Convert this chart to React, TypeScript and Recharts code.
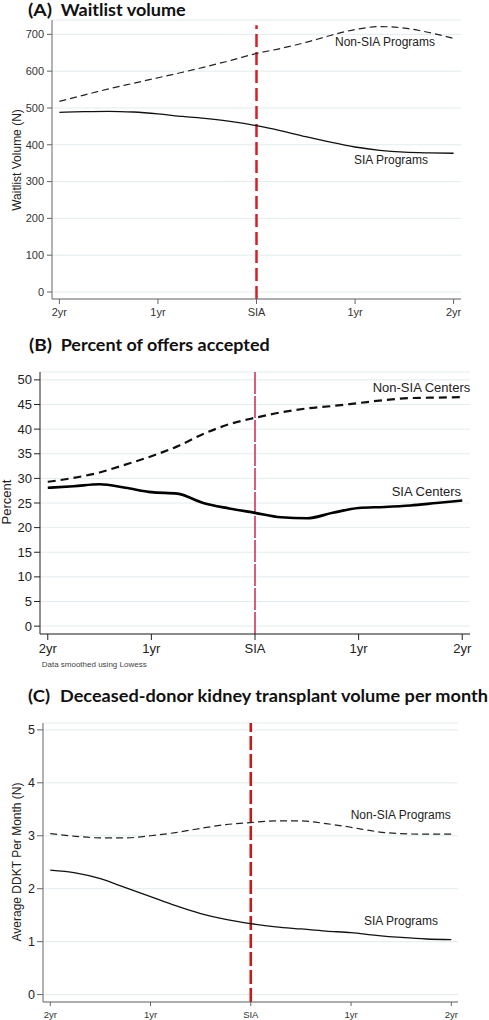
import React from 'react';
import { LineChart, Line, XAxis, YAxis, CartesianGrid, ReferenceLine } from 'recharts';

// months relative to SIA
const months = [-24, -21, -18, -15, -12, -9, -6, -3, 0, 3, 6, 9, 12, 15, 18, 21, 24];
const xTicks = [-24, -12, 0, 12, 24];
const xTickLabels = ['2yr', '1yr', 'SIA', '1yr', '2yr'];

// (A) waitlist volume
const waitNonSia = [518, 535, 552, 567, 582, 597, 613, 630, 648, 662, 678, 697, 713, 721, 717, 705, 689];
const waitSia = [488, 490, 491, 489, 484, 477, 471, 463, 452, 438, 422, 407, 394, 385, 380, 378, 377];
const waitTicks = [0, 100, 200, 300, 400, 500, 600, 700];

// (B) percent of offers accepted
const offersNonSia = [29.3, 30.1, 31.2, 32.8, 34.5, 36.5, 39.0, 41.0, 42.3, 43.4, 44.2, 44.7, 45.3, 45.9, 46.3, 46.4, 46.5];
const offersSia = [28.1, 28.4, 28.8, 28.1, 27.2, 26.9, 25.0, 23.9, 23.0, 22.1, 21.9, 23.0, 24.0, 24.2, 24.5, 25.0, 25.5];
const offersTicks = [0, 5, 10, 15, 20, 25, 30, 35, 40, 45, 50];

// (C) DDKT volume per month
const ddktNonSia = [3.04, 2.99, 2.96, 2.96, 3.0, 3.06, 3.14, 3.21, 3.25, 3.28, 3.28, 3.23, 3.16, 3.08, 3.04, 3.03, 3.03];
const ddktSia = [2.35, 2.3, 2.19, 2.02, 1.85, 1.68, 1.53, 1.42, 1.34, 1.28, 1.24, 1.2, 1.17, 1.12, 1.08, 1.05, 1.04];
const ddktTicks = [0, 1, 2, 3, 4, 5];

const toRows = (nonSia: number[], sia: number[]) =>
  months.map((m, i) => ({ m, nonSia: nonSia[i], sia: sia[i] }));

const fmtX = (v: number) => xTickLabels[xTicks.indexOf(v)] ?? '';

const sans = '"Liberation Sans", Arial, sans-serif';
const titleFont = 'Lato, "Open Sans", sans-serif';

export default function App() {
  return (
    <div style={{ position: 'absolute', left: 0, top: 0, width: 489, height: 1020, background: '#fff', fontFamily: sans }}>
      {/* (A) */}
      <div style={{ position: 'absolute', left: 0, top: 0 }}>
        <LineChart width={489} height={320} data={toRows(waitNonSia, waitSia)} margin={{ top: 20, right: 28, bottom: 0, left: 8 }}>
          <CartesianGrid vertical={false} stroke="#e3ecef" />
          <XAxis dataKey="m" type="number" domain={[-24.9, 24.9]} ticks={xTicks} tickFormatter={fmtX} interval={0}
            height={21} tickSize={5} tickMargin={4} stroke="#666" tick={{ fontSize: 11, fill: '#333' }} allowDataOverflow />
          <YAxis type="number" domain={[-19, 739]} ticks={waitTicks} interval={0} width={44} tickSize={5} tickMargin={3}
            stroke="#666" tick={{ fontSize: 11, fill: '#333' }} allowDataOverflow />
          <ReferenceLine segment={[{ x: 0, y: -19 }, { x: 0, y: 725 }]} stroke="#d42026" strokeWidth={2.5} strokeDasharray="13 5" />
          <Line type="monotone" dataKey="nonSia" stroke="#222" strokeWidth={1.2} strokeDasharray="7 4" dot={false} isAnimationActive={false} />
          <Line type="monotone" dataKey="sia" stroke="#111" strokeWidth={1.3} dot={false} isAnimationActive={false} />
        </LineChart>
      </div>

      {/* (B) */}
      <div style={{ position: 'absolute', left: 0, top: 320 }}>
        <LineChart width={489} height={360} data={toRows(offersNonSia, offersSia)} margin={{ top: 52, right: 19, bottom: 22, left: 10 }}>
          <CartesianGrid vertical={false} stroke="#e3ecef" />
          <XAxis dataKey="m" type="number" domain={[-24.9, 24.9]} ticks={xTicks} tickFormatter={fmtX} interval={0}
            height={24} tickSize={6} tickMargin={4} stroke="#222" tick={{ fontSize: 13, fill: '#222' }} allowDataOverflow />
          <YAxis type="number" domain={[-1.6, 51.6]} ticks={offersTicks} interval={0} width={30} tickSize={6} tickMargin={2}
            stroke="#222" tick={{ fontSize: 13, fill: '#222' }} allowDataOverflow />
          <ReferenceLine x={0} stroke="#cc2a55" strokeWidth={1.5} strokeDasharray="22 2" />
          <Line type="monotone" dataKey="nonSia" stroke="#111" strokeWidth={2.2} strokeDasharray="8 5" dot={false} isAnimationActive={false} />
          <Line type="monotone" dataKey="sia" stroke="#000" strokeWidth={2.6} dot={false} isAnimationActive={false} />
        </LineChart>
      </div>

      {/* (C) */}
      <div style={{ position: 'absolute', left: 0, top: 680 }}>
        <LineChart width={489} height={340} data={toRows(ddktNonSia, ddktSia)} margin={{ top: 43, right: 31, bottom: 0, left: 9 }}>
          <CartesianGrid vertical={false} stroke="#e3ecef" />
          <XAxis dataKey="m" type="number" domain={[-24.87, 24.8]} ticks={xTicks} tickFormatter={fmtX} interval={0}
            height={18} tickSize={4} tickMargin={5} stroke="#666" tick={{ fontSize: 9.5, fill: '#333' }} allowDataOverflow />
          <YAxis type="number" domain={[-0.14, 5.13]} ticks={ddktTicks} interval={0} width={34} tickSize={6} tickMargin={2}
            stroke="#666" tick={{ fontSize: 12.5, fill: '#222' }} allowDataOverflow />
          <ReferenceLine x={0} stroke="#c41a1a" strokeWidth={2.6} strokeDasharray="14 4" />
          <Line type="monotone" dataKey="nonSia" stroke="#222" strokeWidth={1.2} strokeDasharray="7 4" dot={false} isAnimationActive={false} />
          <Line type="monotone" dataKey="sia" stroke="#111" strokeWidth={1.3} dot={false} isAnimationActive={false} />
        </LineChart>
      </div>

      {/* titles, axis titles and annotations */}
      <svg width={489} height={1020} style={{ position: 'absolute', left: 0, top: 0, pointerEvents: 'none' }}>
        <g fontFamily={titleFont} fontWeight="bold" fontSize={17} fill="#111">
          <text x={28} y={16} textLength={24} lengthAdjust="spacingAndGlyphs">(A)</text>
          <text x={60.7} y={16} textLength={125} lengthAdjust="spacingAndGlyphs">Waitlist volume</text>
          <text x={29} y={350.7} textLength={23} lengthAdjust="spacingAndGlyphs">(B)</text>
          <text x={60.7} y={350.7} textLength={209} lengthAdjust="spacingAndGlyphs">Percent of offers accepted</text>
          <text x={28} y={701.7} textLength={22} lengthAdjust="spacingAndGlyphs">(C)</text>
          <text x={60} y={701.7} textLength={428} lengthAdjust="spacingAndGlyphs">Deceased-donor kidney transplant volume per month</text>
        </g>
        <g fontFamily={sans} fill="#222" textAnchor="middle">
          <text x={17} y={160} fontSize={12} transform="rotate(-90 17 160)" dy="0.35em">Waitlist Volume (N)</text>
          <text x={6} y={502} fontSize={13} transform="rotate(-90 6 502)" dy="0.35em">Percent</text>
          <text x={17} y={862} fontSize={12} transform="rotate(-90 17 862)" dy="0.35em">Average DDKT Per Month (N)</text>
        </g>
        <g fontFamily={sans} fill="#222">
          <text x={335} y={46} fontSize={12}>Non-SIA Programs</text>
          <text x={354} y={164} fontSize={12}>SIA Programs</text>
          <text x={372.7} y={391.5} fontSize={13}>Non-SIA Centers</text>
          <text x={391.7} y={496} fontSize={13}>SIA Centers</text>
          <text x={350.7} y={819} fontSize={12}>Non-SIA Programs</text>
          <text x={364} y={925} fontSize={12}>SIA Programs</text>
          <text x={41.7} y={667} fontSize={8} fill="#444">Data smoothed using Lowess</text>
        </g>
      </svg>
    </div>
  );
}
